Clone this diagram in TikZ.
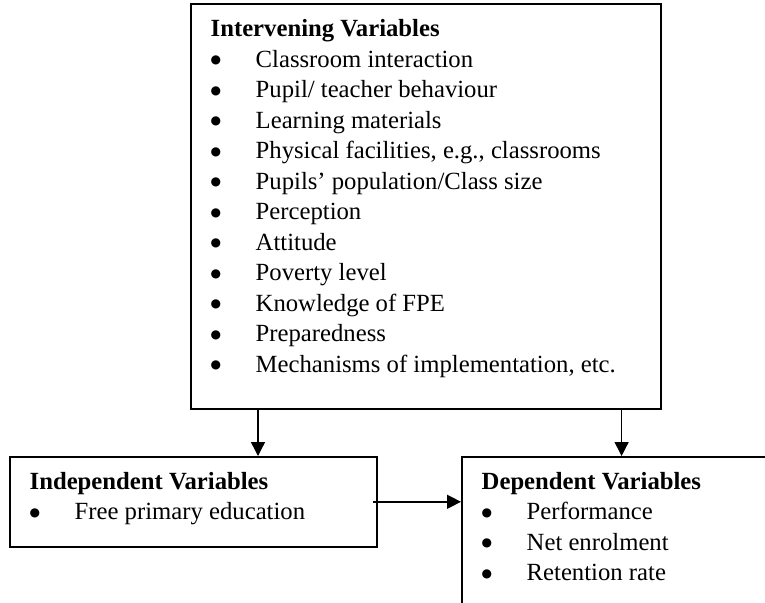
\documentclass[tikz,border=0pt]{standalone}
\usepackage{fontspec}
\setmainfont{Liberation Serif}
\newfontfamily\dejavu{DejaVu Sans}
\usetikzlibrary{arrows.meta, positioning}

\newcommand{\bul}{\makebox[45pt][l]{\raisebox{3.5pt}{\dejavu\fontsize{12}{12}\selectfont ●}}}

\begin{document}
\begin{tikzpicture}[x=1pt,y=-1pt,line width=1.4pt,
    box/.style={draw,line width=1.6pt,inner sep=0pt,anchor=north west},
    varlist/.style={anchor=base west,inner sep=0pt,font=\fontsize{24.7}{30.5}\selectfont},
    >={Triangle[length=14pt,width=14pt]}]
\useasboundingbox (0,0) rectangle (765,602);
\clip (0,0) rectangle (765,602);
% boxes
\node[box,minimum width=470pt,minimum height=405pt] (iv) at (190,3) {};
\node[box,minimum width=367pt,minimum height=90pt] (indep) at (9,456) {};
\node[box,minimum width=330pt,minimum height=170pt] (dep) at (461,456) {};
% texts
\node[varlist] (ivtext) at (210,37) {\begin{tabular}[t]{@{}l@{}}
    \textbf{Intervening Variables}\\
    \bul Classroom interaction\\
    \bul Pupil/ teacher behaviour\\
    \bul Learning materials\\
    \bul Physical facilities, e.g., classrooms\\
    \bul Pupils' population/Class size\\
    \bul Perception\\
    \bul Attitude\\
    \bul Poverty level\\
    \bul Knowledge of FPE\\
    \bul Preparedness\\
    \bul Mechanisms of implementation, etc.
  \end{tabular}};
\node[varlist] (indeptext) at (29,489) {\begin{tabular}[t]{@{}l@{}}
    \textbf{Independent Variables}\\
    \bul Free primary education
  \end{tabular}};
\node[varlist] (deptext) at (481,489) {\begin{tabular}[t]{@{}l@{}}
    \textbf{Dependent Variables}\\
    \bul Performance\\
    \bul Net enrolment\\
    \bul Retention rate
  \end{tabular}};
% arrows
\coordinate (a1) at ([xshift=68pt]iv.south west);
\coordinate (a2) at ([xshift=-40pt]iv.south east);
\draw[->] (a1) -- (a1 |- indep.north);
\draw[->] (a2) -- (a2 |- dep.north);
\draw[->] ([xshift=-5pt]indep.east) -- (indep.east -| dep.west);
\end{tikzpicture}
\end{document}
